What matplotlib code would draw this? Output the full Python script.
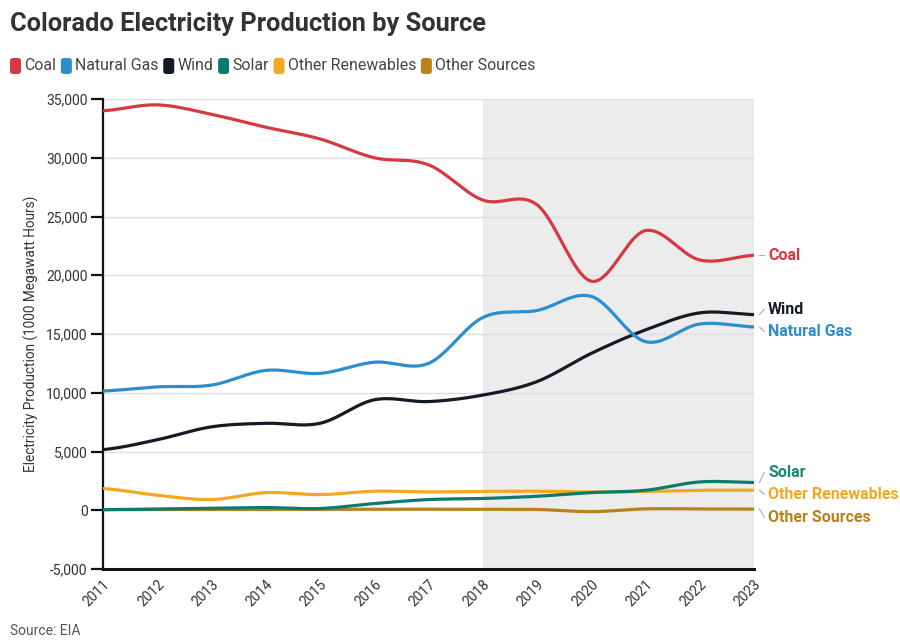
import numpy as np
import matplotlib
matplotlib.use("Agg")
import matplotlib.pyplot as plt
from matplotlib.patches import FancyBboxPatch, Rectangle
from matplotlib.ticker import FuncFormatter

plt.rcParams['font.family'] = ['Roboto', 'DejaVu Sans']

# ---- data (1000 MWh) ----
years = list(range(2011, 2024))
coal = [34000, 34500, 33700, 32600, 31600, 30000, 29400, 26400, 26000, 19500, 23800, 21300, 21700]
natural_gas = [10150, 10500, 10650, 11900, 11650, 12600, 12500, 16400, 17000, 18200, 14350, 15850, 15600]
wind = [5160, 6000, 7100, 7400, 7400, 9400, 9250, 9800, 10950, 13350, 15350, 16800, 16650]
solar = [50, 100, 170, 230, 150, 570, 910, 1000, 1190, 1500, 1700, 2410, 2360]
other_renewables = [1850, 1280, 910, 1500, 1330, 1620, 1560, 1600, 1620, 1550, 1600, 1700, 1700]
other_sources = [60, 60, 70, 80, 80, 90, 90, 80, 70, -120, 120, 110, 100]

series_names = ["Coal", "Natural Gas", "Wind", "Solar", "Other Renewables", "Other Sources"]
series_values = [coal, natural_gas, wind, solar, other_renewables, other_sources]
series_colors = ["#d53a42", "#2a8fca", "#151b25", "#0e7a6b", "#f3a822", "#b8821c"]
label_colors = {"Coal": "#d53a42", "Wind": "#151b25", "Natural Gas": "#2a8fca",
                "Solar": "#1a8676", "Other Renewables": "#f3a822", "Other Sources": "#b8821c"}
# vertical positions of the end labels (kept apart so they don't collide)
label_y = {"Coal": 21700, "Wind": 17100, "Natural Gas": 15230,
           "Solar": 3230, "Other Renewables": 1360, "Other Sources": -600}

shade_start, shade_end = 2018, 2023


def cardinal_curve(x, y, n=40):
    """Uniform Catmull-Rom spline through the points."""
    x = np.asarray(x, float)
    y = np.asarray(y, float)
    k = len(x)
    ext_y = np.concatenate([[y[0]], y, [y[-1]]])
    xs, ys = [], []
    for i in range(k - 1):
        p0, p1, p2, p3 = ext_y[i], ext_y[i + 1], ext_y[i + 2], ext_y[i + 3]
        m1 = (p2 - p0) / 2.0
        m2 = (p3 - p1) / 2.0
        t = np.linspace(0, 1, n, endpoint=(i == k - 2))
        h00 = 2 * t**3 - 3 * t**2 + 1
        h10 = t**3 - 2 * t**2 + t
        h01 = -2 * t**3 + 3 * t**2
        h11 = t**3 - t**2
        xs.append(x[i] + t * (x[i + 1] - x[i]))
        ys.append(h00 * p1 + h10 * m1 + h01 * p2 + h11 * m2)
    return np.concatenate(xs), np.concatenate(ys)


W, H = 900, 640
fig = plt.figure(figsize=(W / 100, H / 100), dpi=100)
ax = fig.add_axes([103 / W, 1 - 569 / H, (754 - 103) / W, (569 - 99) / H])

ax.set_xlim(years[0], years[-1])
ax.set_ylim(-5000, 35000)

# highlighted period
ax.add_patch(Rectangle((shade_start, -5000), shade_end - shade_start, 40000,
                       facecolor="#ececec", edgecolor="none", zorder=0))

ax.set_yticks(np.arange(-5000, 35001, 5000))
ax.yaxis.set_major_formatter(FuncFormatter(lambda v, p: f"{int(v):,}"))
ax.grid(axis="y", color="#dedede", linewidth=1, zorder=1)
ax.set_axisbelow(True)

ax.set_xticks(years)
ax.set_xticklabels([str(y) for y in years], rotation=45, ha="right", va="top",
                   rotation_mode="anchor", fontsize=10, color="#333333")
ax.tick_params(axis="x", length=0, pad=6)
ax.tick_params(axis="y", length=9, width=1.6, color="#111111", labelsize=10,
               labelcolor="#333333", pad=2)

for s in ["top", "right"]:
    ax.spines[s].set_visible(False)
ax.spines["left"].set_linewidth(1.6)
ax.spines["left"].set_color("#111111")
ax.spines["bottom"].set_linewidth(2.2)
ax.spines["bottom"].set_color("#111111")

ax.set_ylabel("Electricity Production (1000 Megawatt Hours)", fontsize=9.8,
              color="#333333", labelpad=5)

# draw the series (later ones underneath earlier ones)
order = [5, 4, 3, 1, 2, 0]
for i in order:
    xs, ys = cardinal_curve(years, series_values[i])
    ax.plot(xs, ys, color=series_colors[i], linewidth=2.3, zorder=3 + (5 - i) * 0.1,
            solid_capstyle="round")

# end labels with small connectors
for name, vals in zip(series_names, series_values):
    end_val = vals[-1]
    ly = label_y[name]
    ax.plot([years[-1] + 0.1, years[-1] + 0.19], [end_val, ly], color="#aaaaaa",
            linewidth=0.8, clip_on=False, zorder=2)
    ax.text(years[-1] + 0.26, ly, name, color=label_colors[name], fontsize=11.5,
            fontweight="bold", va="center", ha="left", clip_on=False)

# title
fig.text(10 / W, 1 - 24 / H, "Colorado Electricity Production by Source",
         fontsize=18.3, fontweight="bold", color="#333333", va="center", ha="left")

# legend row
renderer = fig.canvas.get_renderer()
x = 10
ly_px = 66
for name, col in zip(series_names, series_colors):
    fig.patches.append(FancyBboxPatch((x / W, 1 - (ly_px + 8) / H), 11 / W, 16 / H,
                                      boxstyle="round,pad=0,rounding_size=0.004",
                                      facecolor=col, edgecolor="none",
                                      transform=fig.transFigure, figure=fig))
    t = fig.text((x + 14.5) / W, 1 - ly_px / H, name, fontsize=11.4, color="#444444",
                 va="center", ha="left")
    bb = t.get_window_extent(renderer)
    x = x + 14.5 + bb.width + 4.5

fig.text(10 / W, 1 - 631 / H, "Source: EIA", fontsize=10, color="#555555",
         va="center", ha="left")

fig.savefig("out.png", dpi=100)
